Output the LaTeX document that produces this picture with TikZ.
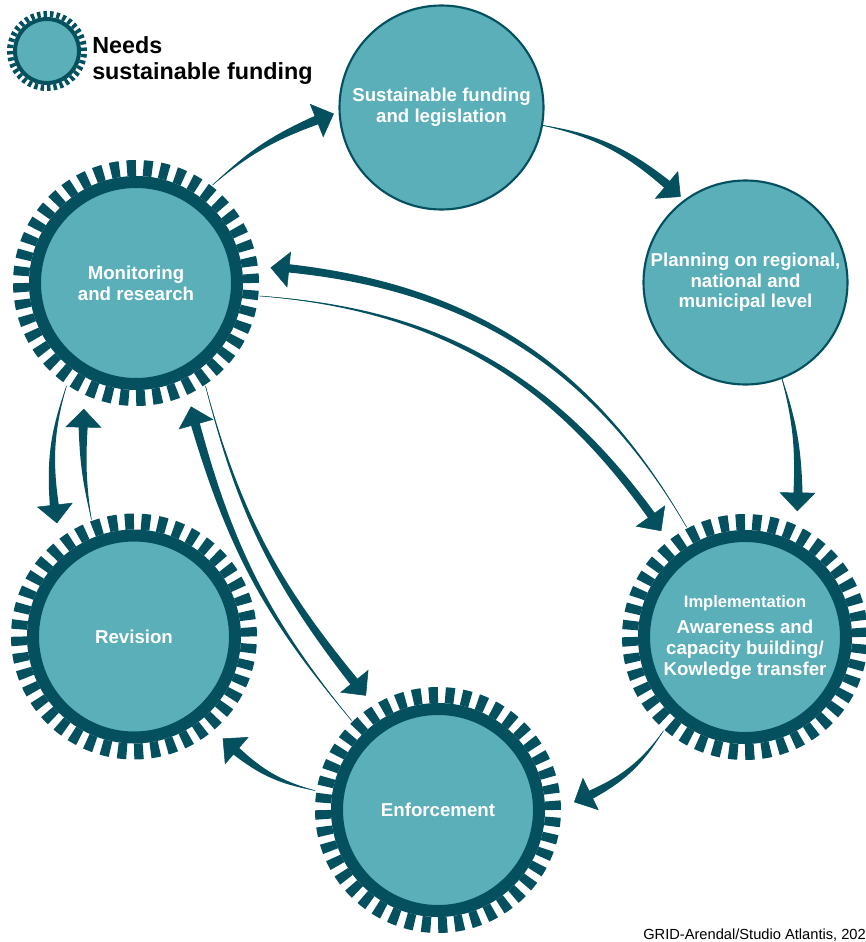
\documentclass[tikz,border=0pt]{standalone}
\usepackage{fontspec}
\setmainfont{Liberation Sans}
\usepackage{xcolor}
\usetikzlibrary{arrows.meta, positioning, calc, backgrounds}

\definecolor{gearfill}{HTML}{5AAFB9}
\definecolor{geardark}{HTML}{04505F}

\tikzset{
  disc/.style={circle, minimum size=153pt, inner sep=0pt, fill=gearfill, draw=geardark,
    line width=1.6pt, outer sep=3.75pt, text=white, align=center,
    font=\bfseries\fontsize{14}{15.5}\selectfont},
  gear/.style={disc, minimum size=151.5pt, line width=9pt, outer sep=25.5pt},
  teeth/.style={draw=geardark, line width=12pt, dash pattern=on 6.8pt off 5.52pt},
  keygear/.style={disc, minimum size=48pt, line width=3pt},
  keyteeth/.style={draw=geardark, line width=4.5pt, dash pattern=on 2.6pt off 2.243pt},
}

% tapered arrow: from node, angle, to node, angle, bend
\newcommand{\flowarrow}[5]{%
  \coordinate (ft) at ($(#1.#2)!8pt!(#1.center)$);
  \coordinate (fb) at ($(#3.#4)!-14pt!(#3.center)$);
  \coordinate (fe) at ($(fb)!-2pt!(ft)$);
  \fill[geardark] (ft) to[bend left=#5] ($(fe)!3.5pt!90:(ft)$)
    -- ($(fe)!3.5pt!-90:(ft)$) to[bend right=#5] (ft) -- cycle;
  \draw[geardark, line width=.4pt, shorten >=-14pt, -{Triangle[length=14pt,width=27pt]}]
    (ft) to[bend left=#5] (fb);
}

\begin{document}
\begin{tikzpicture}[x=0.75pt, y=0.75pt]
  \useasboundingbox (0,0) rectangle (866,-942);
  % Stages
  \node[disc] (fund) at (441.5,-107.5) {Sustainable funding\\and legislation};
  \node[disc] (plan) at (745.5,-282.5) {Planning on regional,\\national and\\municipal level};
  \node[gear] (mon) at (136,-283) {Monitoring\\and research};
  \node[gear] (impl) at (745,-637)
    {{\fontsize{12.4}{14}\selectfont Implementation}\\[4.5pt]Awareness and\\capacity building/\\Kowledge transfer};
  \node[gear] (rev) at (134,-636.5) {Revision};
  \node[gear] (enf) at (438,-810) {Enforcement};
  \foreach \g in {mon,impl,rev,enf}
    \draw[teeth] (\g.center) circle (86.25pt);
  % Legend
  \node[keygear] (key) at (47,-51) {};
  \draw[keyteeth] (key.center) circle (27.75pt);
  \node[right=6pt of key, yshift=-7.5pt, anchor=west, inner sep=0pt, align=left,
    font=\bfseries\fontsize{17.5}{19.5}\selectfont] (keytext) {Needs\\sustainable funding};
  % Credit
  \node[anchor=base west, inner sep=0pt, font=\fontsize{11}{12}\selectfont] (credit)
    at (643,-939) {GRID-Arendal/Studio Atlantis, 202};
  % Flows
  \begin{scope}[on background layer]
    \flowarrow{mon}{52}{fund}{186}{10}
    \flowarrow{fund}{350}{plan}{129}{15}
    \flowarrow{plan}{291}{impl}{70}{9}
    \flowarrow{impl}{229}{enf}{6}{15}
    \flowarrow{enf}{171}{rev}{312}{14}
    \flowarrow{mon}{236}{rev}{121}{-12}
    \flowarrow{rev}{110}{mon}{250}{6}
    \flowarrow{enf}{134}{mon}{293}{12}
    \flowarrow{mon}{304}{enf}{123}{-12}
    \flowarrow{mon}{354}{impl}{128}{25}
    \flowarrow{impl}{118}{mon}{5}{-27}
  \end{scope}
\end{tikzpicture}
\end{document}
